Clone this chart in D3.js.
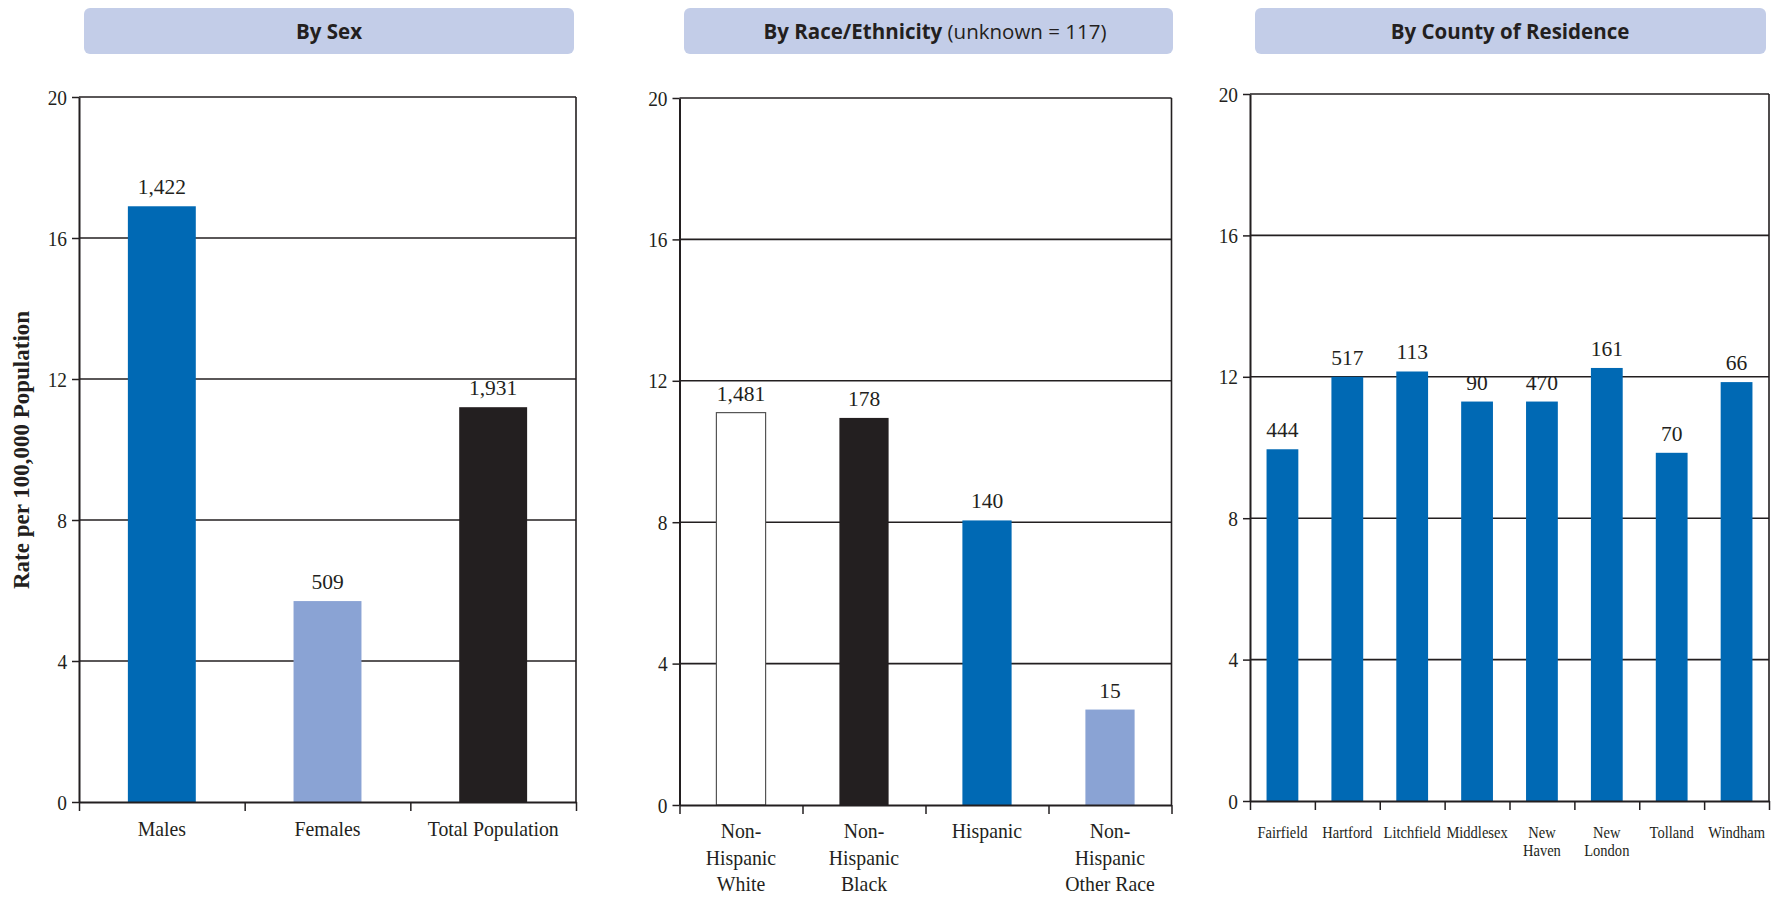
<!DOCTYPE html>
<html>
<head>
<meta charset="utf-8">
<script src="https://cdn.jsdelivr.net/npm/d3@7"></script>
<style>
  html, body { margin: 0; padding: 0; background: #ffffff; }
  svg { display: block; }
</style>
</head>
<body>
<script>
// ---------- DATA ----------
const yTicks = [0, 4, 8, 12, 16, 20];

const sexCategories = ["Males", "Females", "Total Population"];
const sexRates = [16.9, 5.7, 11.2];
const sexCounts = ["1,422", "509", "1,931"];

const raceCategories = ["Non-\nHispanic\nWhite", "Non-\nHispanic\nBlack", "Hispanic", "Non-\nHispanic\nOther Race"];
const raceRates = [11.1, 10.95, 8.05, 2.7];
const raceCounts = ["1,481", "178", "140", "15"];

const countyCategories = ["Fairfield", "Hartford", "Litchfield", "Middlesex", "New\nHaven", "New\nLondon", "Tolland", "Windham"];
const countyRates = [9.95, 12.0, 12.15, 11.3, 11.3, 12.25, 9.85, 11.85];
const countyCounts = ["444", "517", "113", "90", "470", "161", "70", "66"];

const yAxisTitle = "Rate per 100,000 Population";

// ---------- STYLE ----------
const INK = "#231f20";
const BLUE = "#0069b4";
const LIGHT = "#8aa3d4";
const WHITE = "#ffffff";
const HEADER_FILL = "#c3cde8";
const SERIF = "'Liberation Serif', 'Times New Roman', serif";
const SANS = "'Open Sans', Lato, sans-serif";

const sexColors = [BLUE, LIGHT, INK];
const raceColors = [WHITE, INK, BLUE, LIGHT];
const countyColors = countyCategories.map(() => BLUE);

const svg = d3.select("body").append("svg").attr("width", 1771).attr("height", 899);

function drawPanel(c) {
  const g = svg.append("g");

  // header
  g.append("rect").attr("x", c.hx0).attr("y", 8).attr("width", c.hx1 - c.hx0).attr("height", 46)
    .attr("rx", 6).attr("fill", HEADER_FILL);
  const ht = g.append("text").attr("x", c.htx).attr("y", 39).attr("text-anchor", "middle")
    .attr("font-family", SANS).attr("font-size", 20.5).attr("fill", INK);
  ht.append("tspan").attr("font-weight", 700).text(c.title);
  if (c.note) ht.append("tspan").attr("font-weight", 400).text(" " + c.note);

  const x = d3.scaleBand().domain(c.cats).range([c.x0, c.x1]).padding(0);
  const y = d3.scaleLinear().domain([0, 20]).range([c.yb, c.yt]);

  // gridlines (incl. top border)
  g.append("g").selectAll("line").data(yTicks.filter(t => t > 0)).join("line")
    .attr("x1", c.x0).attr("x2", c.x1).attr("y1", d => y(d)).attr("y2", d => y(d))
    .attr("stroke", INK).attr("stroke-width", 1.6);
  // right border
  g.append("line").attr("x1", c.x1).attr("x2", c.x1).attr("y1", y(0)).attr("y2", y(20))
    .attr("stroke", INK).attr("stroke-width", 1.6);

  const rows = c.cats.map((k, i) => ({ k, v: c.rates[i], n: c.counts[i], col: c.colors[i] }));
  const bw = x.bandwidth() * c.frac;

  // bars
  g.append("g").selectAll("rect").data(rows).join("rect")
    .attr("x", d => x(d.k) + (x.bandwidth() - bw) / 2)
    .attr("width", bw)
    .attr("y", d => y(d.v))
    .attr("height", d => y(0) - y(d.v))
    .attr("fill", d => d.col)
    .attr("stroke", d => d.col === WHITE ? "#555" : "none")
    .attr("stroke-width", 1.2);

  // y axis
  const ya = g.append("g").attr("transform", `translate(${c.x0},0)`)
    .call(d3.axisLeft(y).tickValues(yTicks).tickSize(7).tickPadding(5).tickSizeOuter(0));
  ya.select(".domain").attr("stroke", INK).attr("stroke-width", 2);
  ya.selectAll(".tick line").attr("stroke", INK).attr("stroke-width", 1.5);
  ya.selectAll(".tick text").attr("font-family", SERIF).attr("font-size", 22).attr("fill", INK)
    .style("transform-box", "fill-box").style("transform-origin", "right center")
    .style("transform", "scaleX(0.88)");

  // x axis with boundary ticks
  const xi = d3.scaleLinear().domain([0, c.cats.length]).range([c.x0, c.x1]);
  const xa = g.append("g").attr("transform", `translate(0,${y(0)})`)
    .call(d3.axisBottom(xi).tickValues(d3.range(c.cats.length + 1)).tickSize(9).tickFormat("").tickSizeOuter(0));
  xa.select(".domain").attr("stroke", INK).attr("stroke-width", 2);
  xa.selectAll(".tick line").attr("stroke", INK).attr("stroke-width", 1.5);

  // category labels
  const cl = g.append("g").selectAll("text").data(c.cats).join("text")
    .attr("x", d => x(d) + x.bandwidth() / 2)
    .attr("y", c.catBase)
    .attr("text-anchor", "middle")
    .attr("font-family", SERIF).attr("font-size", c.catSize).attr("fill", INK)
    .style("transform-box", "fill-box").style("transform-origin", "center")
    .style("transform", `scaleX(${c.catScale})`);
  cl.each(function (d) {
    const t = d3.select(this);
    const cx = x(d) + x.bandwidth() / 2;
    d.split("\n").forEach((line, i) => {
      t.append("tspan").attr("x", cx).attr("dy", i === 0 ? 0 : c.catLH).text(line);
    });
  });

  // value labels
  g.append("g").selectAll("text").data(rows).join("text")
    .attr("x", d => x(d.k) + x.bandwidth() / 2)
    .attr("y", d => y(d.v) - 12)
    .attr("text-anchor", "middle")
    .attr("font-family", SERIF).attr("font-size", 21.5).attr("fill", INK)
    .text(d => d.n);
}

drawPanel({
  cats: sexCategories, rates: sexRates, counts: sexCounts, colors: sexColors,
  title: "By Sex", note: null, hx0: 84, hx1: 574, htx: 329,
  x0: 79, x1: 576, yb: 802, yt: 97, frac: 0.41,
  catBase: 836, catLH: 26.7, catSize: 22, catScale: 0.9
});

drawPanel({
  cats: raceCategories, rates: raceRates, counts: raceCounts, colors: raceColors,
  title: "By Race/Ethnicity", note: "(unknown = 117)", hx0: 684, hx1: 1173, htx: 935,
  x0: 679.5, x1: 1171.5, yb: 805, yt: 98, frac: 0.40,
  catBase: 838, catLH: 26.7, catSize: 22, catScale: 0.9
});

drawPanel({
  cats: countyCategories, rates: countyRates, counts: countyCounts, colors: countyColors,
  title: "By County of Residence", note: null, hx0: 1255, hx1: 1766, htx: 1510,
  x0: 1250, x1: 1769, yb: 801, yt: 94, frac: 0.49,
  catBase: 838, catLH: 18, catSize: 17.5, catScale: 0.83
});

// y-axis title
svg.append("text")
  .attr("transform", "translate(29,450) rotate(-90)")
  .attr("text-anchor", "middle")
  .attr("font-family", SERIF).attr("font-weight", 700).attr("font-size", 23).attr("fill", INK)
  .text(yAxisTitle);
</script>
</body>
</html>
